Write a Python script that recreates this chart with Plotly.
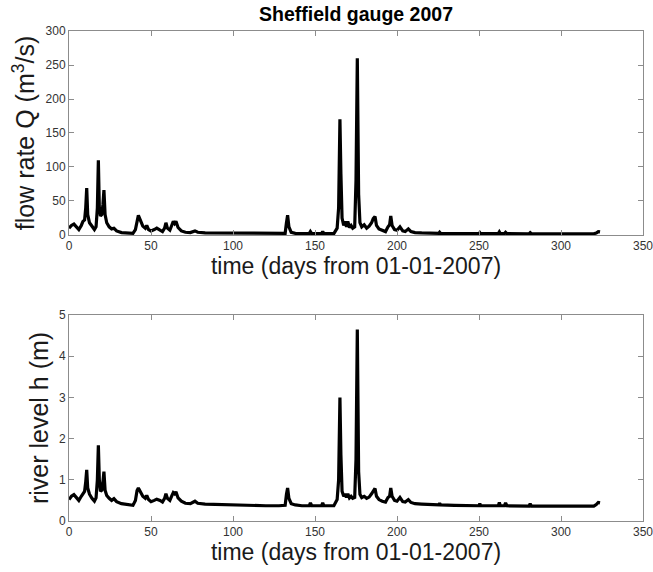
import plotly.graph_objects as go
from plotly.subplots import make_subplots

# time in days from 01-01-2007
days = [0, 1.5, 3, 4.5, 6, 7.5, 8.5, 9.5, 10.2, 10.8, 11.4, 12.5, 14, 15.5, 16.5, 17.3, 17.9, 18.5,
        19.2, 20, 20.7, 21.3, 22, 23, 24.5, 26, 27.4, 29, 32, 36, 39, 40.5, 41.5, 42.3, 43.5, 45,
        46.5, 47.4, 48.5, 50, 52, 53.5, 55.5, 57, 58.3, 59.1, 60, 61.5, 62.8, 63.6, 64.4, 65.2,
        66.5, 68.5, 71, 74, 76.8, 78.5, 83, 90, 100, 110, 120, 128, 131.8, 132.6, 133.3, 134.1,
        135.5, 138, 142, 146.5, 147.2, 148, 154, 154.7, 155.4, 161.5, 162.5, 163.5, 164.4, 165.2,
        165.8, 166.5, 167.5, 168.5, 169.2, 170, 171, 172, 173, 174.2, 175, 175.8, 176.6, 177.4,
        178.5, 180, 181.5, 183, 184.5, 185.5, 186.6, 187.5, 189, 191, 193, 194.5, 195.5, 196.2,
        197, 198.5, 200, 201.8, 203.5, 205, 206.9, 208.5, 211, 215, 220, 225.5, 226, 226.6, 235,
        245, 250, 250.5, 251, 261.8, 262.4, 263, 265.5, 266.2, 267, 280.5, 281.2, 282, 300, 310,
        320, 321.5, 322.7, 323.8]

# flow rate Q (m^3/s)
flow_Q = [10, 14, 16, 12, 8, 14, 20, 22, 40, 69, 30, 18, 12, 8, 12, 40, 110, 40,
          28, 30, 45, 66, 30, 18, 12, 9, 10, 6, 3.5, 2.5, 2.5, 8, 24, 29, 22, 13,
          10, 14, 8, 6, 8, 10, 7, 5, 10, 18, 10, 7, 15, 20, 17, 20,
          11, 6, 4, 3.5, 6, 4, 3, 2.8, 2.5, 2.2, 2, 2, 2.5, 18, 29, 12,
          4, 2.5, 2, 2, 5, 2, 2, 5, 2, 2, 6, 10, 40, 170,
          90, 25, 14, 20, 12, 20, 11, 14, 10, 12, 80, 260, 60, 18,
          12, 15, 10, 13, 18, 24, 27, 14, 9, 7, 5, 12, 15, 28,
          14, 8, 7, 12, 6, 5, 9, 5, 3.5, 3, 2.5, 2.5, 4, 2.5, 2.2,
          2, 2, 3.5, 2, 2, 4.5, 2, 2, 4, 2, 1.8, 3.5, 1.8, 1.8, 1.8,
          1.8, 3, 5, 4.5]

# river level h (m)
level_h = [0.52, 0.6, 0.64, 0.58, 0.5, 0.6, 0.68, 0.72, 0.95, 1.24, 0.8, 0.65, 0.55, 0.48, 0.56, 1.0, 1.84, 1.0,
           0.72, 0.75, 0.95, 1.2, 0.75, 0.62, 0.55, 0.5, 0.54, 0.47, 0.42, 0.39, 0.38, 0.5, 0.74, 0.8, 0.72, 0.6,
           0.55, 0.62, 0.52, 0.47, 0.5, 0.53, 0.5, 0.46, 0.55, 0.66, 0.55, 0.5, 0.62, 0.69, 0.66, 0.71,
           0.56, 0.48, 0.43, 0.42, 0.48, 0.43, 0.41, 0.4, 0.39, 0.38, 0.37, 0.37, 0.38, 0.65, 0.8, 0.55,
           0.42, 0.39, 0.37, 0.37, 0.44, 0.37, 0.37, 0.44, 0.37, 0.37, 0.46, 0.52, 1.0, 3.0,
           1.6, 0.72, 0.6, 0.66, 0.57, 0.66, 0.56, 0.6, 0.55, 0.57, 1.5, 4.65, 1.2, 0.65,
           0.57, 0.6, 0.55, 0.58, 0.66, 0.74, 0.79, 0.6, 0.52, 0.48, 0.46, 0.57, 0.6, 0.8,
           0.6, 0.5, 0.48, 0.57, 0.47, 0.46, 0.52, 0.45, 0.42, 0.41, 0.4, 0.39, 0.43, 0.39, 0.38,
           0.37, 0.37, 0.42, 0.37, 0.37, 0.45, 0.37, 0.37, 0.44, 0.37, 0.36, 0.42, 0.36, 0.36, 0.36,
           0.36, 0.4, 0.45, 0.44]

x_ticks = [0, 50, 100, 150, 200, 250, 300, 350]
q_ticks = [0, 50, 100, 150, 200, 250, 300]
h_ticks = [0, 1, 2, 3, 4, 5]

FONT = "Liberation Sans, Arial, sans-serif"

fig = make_subplots(rows=2, cols=1)
fig.add_trace(go.Scatter(x=days, y=flow_Q, mode="lines", line=dict(color="black", width=3.2),
                         showlegend=False, hoverinfo="skip"), row=1, col=1)
fig.add_trace(go.Scatter(x=days, y=level_h, mode="lines", line=dict(color="black", width=3.2),
                         showlegend=False, hoverinfo="skip"), row=2, col=1)

axis_common = dict(showline=True, linecolor="#8c8c8c", linewidth=1, mirror="allticks",
                   ticks="inside", ticklen=5, tickcolor="#8c8c8c", showgrid=False, zeroline=False,
                   automargin=False, ticklabeloverflow="allow",
                   tickfont=dict(family=FONT, size=12, color="#333333"))
xtitle = dict(text="time (days from 01-01-2007)",
              font=dict(family=FONT, size=23, color="#1a1a1a"), standoff=2)

fig.update_xaxes(range=[0, 350], tickvals=x_ticks, title=xtitle, **axis_common)
fig.update_yaxes(**axis_common)
fig.update_yaxes(range=[0, 300], tickvals=q_ticks, domain=[0.5837, 1.0], row=1, col=1,
                 title=dict(text="flow rate Q (m<sup>3</sup>/s)", standoff=3,
                            font=dict(family=FONT, size=25, color="#1a1a1a")))
fig.update_yaxes(range=[0, 5], tickvals=h_ticks, domain=[0.0, 0.4204], row=2, col=1,
                 title=dict(text="river level h (m)", standoff=3,
                            font=dict(family=FONT, size=25, color="#1a1a1a")))

fig.update_layout(
    width=653, height=572,
    margin=dict(l=69, r=10, t=31, b=51, autoexpand=False),
    paper_bgcolor="white", plot_bgcolor="white",
    title=dict(text="<b>Sheffield gauge 2007</b>", x=0.5, xref="paper", y=0.976, yanchor="middle",
               font=dict(family=FONT, size=19.5, color="black")),
)

fig.write_html("out.html", config={"displayModeBar": False},
               post_script="document.body.style.margin='0';document.body.style.overflow='hidden';")
